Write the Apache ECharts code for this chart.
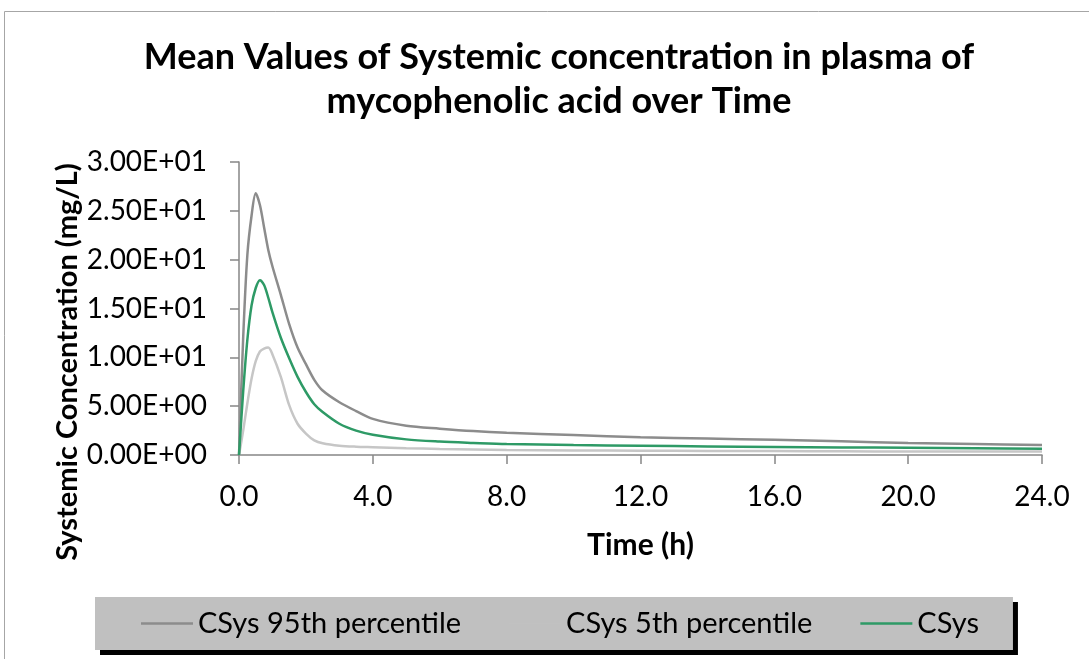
<!DOCTYPE html>
<html>
<head>
<meta charset="utf-8">
<script src="https://cdn.jsdelivr.net/npm/echarts@6/dist/echarts.min.js"></script>
<style>
  html, body { margin: 0; padding: 0; background: #ffffff; }
  #chart { width: 1089px; height: 659px; }
</style>
</head>
<body>
<div id="chart"></div>
<script>
// Sampling times (h)
const times = [0, 0.125, 0.25, 0.375, 0.5, 0.625, 0.75, 0.875, 1.0, 1.25, 1.5, 1.75, 2.0, 2.25, 2.5, 3.0, 3.5, 4.0, 5, 6, 7, 8, 10, 12, 14, 16, 18, 20, 22, 24];

// Systemic concentration in plasma (mg/L)
const csys95 = [0, 12.0, 20.5, 24.5, 26.8, 25.6, 23.3, 21.0, 19.3, 16.4, 13.4, 11.0, 9.3, 7.7, 6.6, 5.4, 4.5, 3.7, 3.0, 2.7, 2.45, 2.28, 2.05, 1.82, 1.68, 1.55, 1.40, 1.22, 1.12, 1.02];
const csys5  = [0, 2.5, 5.3, 7.8, 9.6, 10.6, 10.9, 11.0, 10.3, 8.0, 5.1, 3.2, 2.2, 1.5, 1.2, 0.95, 0.85, 0.8, 0.7, 0.62, 0.57, 0.52, 0.47, 0.44, 0.42, 0.40, 0.38, 0.36, 0.36, 0.36];
const csys   = [0, 6.5, 11.8, 15.3, 17.1, 17.9, 17.4, 16.1, 14.6, 12.0, 9.9, 8.0, 6.45, 5.2, 4.4, 3.2, 2.5, 2.08, 1.6, 1.38, 1.24, 1.12, 1.02, 0.95, 0.88, 0.82, 0.78, 0.74, 0.69, 0.64];

const seriesNames = ['CSys 95th percentile', 'CSys 5th percentile', 'CSys'];
const seriesColors = ['#8c8c8c', '#c6c6c6', '#2e9a66'];
// legend swatches (the light grey one sits on the grey legend panel)
const legendColors = ['#8c8c8c', '#c1c1c1', '#2e9a66'];
const titleText = 'Mean Values of Systemic concentration in plasma of\nmycophenolic acid over Time';
const xName = 'Time (h)';
const yName = 'Systemic Concentration (mg/L)';

const FONT = 'Lato';

function pairs(vals) { return times.map((t, i) => [t, vals[i]]); }

// 30 -> "3.00E+01"
function sci(v) {
  const s = Number(v).toExponential(2);
  const m = s.match(/^(-?[\d.]+)e([+-])(\d+)$/);
  const exp = m[3].length < 2 ? '0' + m[3] : m[3];
  return m[1] + 'E' + m[2] + exp;
}

const chart = echarts.init(document.getElementById('chart'), null, { renderer: 'canvas' });

const lineSeries = (name, vals, color, z) => ({
  name: name,
  type: 'line',
  data: pairs(vals),
  symbol: 'none',
  smooth: 0.3,
  z: z,
  lineStyle: { color: color, width: 2.5 },
  itemStyle: { color: color },
  emphasis: { disabled: true }
});

chart.setOption({
  animation: false,
  backgroundColor: '#ffffff',
  title: {
    text: titleText,
    left: 554,
    top: 30,
    textAlign: 'center',
    textStyle: { fontFamily: FONT, fontWeight: 'bold', fontSize: 36, lineHeight: 44, color: '#000000' }
  },
  grid: { left: 239, right: 47, top: 162, bottom: 204, containLabel: false },
  xAxis: {
    type: 'value',
    min: 0, max: 24, interval: 4,
    name: xName,
    nameLocation: 'middle',
    nameGap: 75,
    nameTextStyle: { fontFamily: FONT, fontWeight: 'bold', fontSize: 30, color: '#000000' },
    axisLine: { lineStyle: { color: '#868686', width: 1.5 } },
    axisTick: { show: true, length: 9, lineStyle: { color: '#868686', width: 1.5 } },
    axisLabel: { margin: 28, fontFamily: FONT, fontSize: 28, color: '#000000', formatter: v => v.toFixed(1) },
    splitLine: { show: false }
  },
  yAxis: {
    type: 'value',
    min: 0, max: 30, interval: 5,
    axisLine: { show: true, lineStyle: { color: '#868686', width: 1.5 } },
    axisTick: { show: true, length: 9, lineStyle: { color: '#868686', width: 1.5 } },
    axisLabel: { margin: 32, fontFamily: FONT, fontSize: 28, color: '#000000', formatter: sci },
    splitLine: { show: false }
  },
  legend: {
    data: seriesNames.map((n, i) => ({ name: n, icon: 'rect', itemStyle: { color: legendColors[i] } })),
    left: 95,
    top: 597,
    orient: 'horizontal',
    itemWidth: 52,
    itemHeight: 2.5,
    itemGap: 48,
    padding: [12, 34, 12, 46],
    backgroundColor: '#c0c0c0',
    shadowColor: '#000000',
    shadowBlur: 0,
    shadowOffsetX: 5,
    shadowOffsetY: 5,
    borderRadius: 0,
    textStyle: { fontFamily: FONT, fontSize: 29, lineHeight: 29, color: '#000000' },
    selectedMode: false
  },
  graphic: [
    {
      type: 'rect',
      silent: true,
      z: -10,
      shape: { x: 4.5, y: 11.5, width: 1200, height: 1000 },
      style: { fill: 'none', stroke: '#a6a6a6', lineWidth: 1 }
    },
    {
      type: 'text',
      silent: true,
      x: 68,
      y: 362,
      rotation: Math.PI / 2,
      style: {
        text: yName,
        fontFamily: FONT,
        fontWeight: 'bold',
        fontSize: 29,
        fill: '#000000',
        align: 'center',
        verticalAlign: 'middle'
      }
    }
  ],
  series: [
    lineSeries(seriesNames[0], csys95, seriesColors[0], 3),
    lineSeries(seriesNames[1], csys5, seriesColors[1], 2),
    lineSeries(seriesNames[2], csys, seriesColors[2], 4)
  ]
});
</script>
</body>
</html>
